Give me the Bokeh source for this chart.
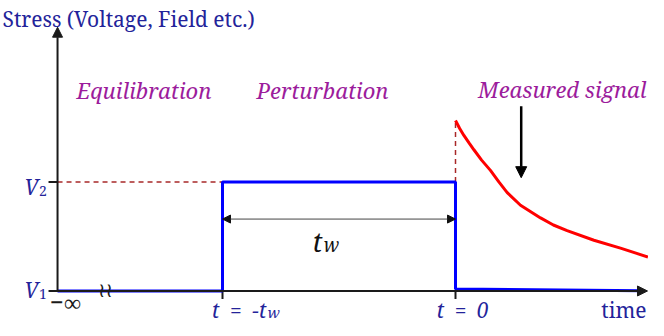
from bokeh.plotting import figure
from bokeh.models import Range1d, Arrow, NormalHead
from bokeh.core.properties import value
from bokeh.embed import file_html
from bokeh.resources import INLINE

# ---------------- data (schematic units: t_w = 1, V2 - V1 = 1) ----------------
V1 = 0.0
V2 = 1.0
t_w = 1.0
t_inf = -1.708          # where "-infinity" sits on the (broken) time axis
t_end = 0.824           # end of the time axis (arrow tip)
step_t = [t_inf, -t_w, -t_w, 0.0, 0.0, 0.80]
step_v = [V1, V1, V2, V2, 0.018, 0.002]
signal_t = [0.0, 0.018, 0.036, 0.058, 0.079, 0.112, 0.150, 0.186, 0.222, 0.279,
            0.365, 0.420, 0.479, 0.594, 0.708, 0.826]
signal_v = [1.563, 1.490, 1.426, 1.358, 1.295, 1.200, 1.106, 1.000, 0.902, 0.786,
            0.670, 0.605, 0.553, 0.465, 0.393, 0.312]
signal_arrow_t = 0.282
signal_arrow_v = [1.694, 1.039]
axis_top = 2.419

# ---------------- layout ----------------
W, H = 648, 320
SY = H / 336.0             # vertical squeeze of the 336px-high reference layout
PXX = 233.0                # pixels per time unit
PXY = 114.5 * SY           # pixels per stress unit
X0PX, Y0PX = 455.0, 305.0 * SY   # canvas position of (t=0, V1)


def X(px):
    return (px - X0PX) / PXX


def Y(py):  # py given in reference pixels
    return (Y0PX - py * SY) / PXY


p = figure(width=W, height=H, output_backend="svg", toolbar_location=None,
           x_range=Range1d(X(0), X(W)), y_range=Range1d(Y(336), Y(0)),
           x_axis_location=None, y_axis_location=None, min_border=0)
p.grid.visible = False
p.outline_line_color = None
p.background_fill_color = "white"

SERIF = value("Noto Serif")
BLUE_T = "#23239a"
PURPLE = "#9c1c9c"
DRED = "#a82828"
AX = "#1a1a1a"
EN = "\u2002"

# dashed guide lines
p.line([t_inf, -t_w], [V2, V2], line_color=DRED, line_width=1.5, line_dash="5 4")
p.line([0.0, 0.0], [V2, signal_v[0]], line_color=DRED, line_width=1.5, line_dash="5 4")

# axes
p.add_layout(Arrow(x_start=t_inf, y_start=V1, x_end=t_inf, y_end=axis_top,
                   line_color=AX, line_width=2,
                   end=NormalHead(size=10, fill_color=AX, line_color=AX)))
p.add_layout(Arrow(x_start=t_inf - 9 / PXX, y_start=V1, x_end=t_end, y_end=V1,
                   line_color=AX, line_width=2,
                   end=NormalHead(size=10, fill_color=AX, line_color=AX)))
# ticks
p.segment(x0=[t_inf - 9 / PXX], y0=[V2], x1=[t_inf], y1=[V2], line_color=AX, line_width=2)
p.segment(x0=[-t_w, 0.0], y0=[V1, V1], x1=[-t_w, 0.0], y1=[V1 - 8 / PXY, V1 - 8 / PXY],
          line_color=AX, line_width=2)

# stress step
p.line(step_t, step_v, line_color="#0000ff", line_width=3)
# measured signal
p.line(signal_t, signal_v, line_color="#ff0000", line_width=3)

# t_w double arrow
yw = Y(229.5)
p.add_layout(Arrow(x_start=-t_w, y_start=yw, x_end=0.0, y_end=yw,
                   line_color="#444444", line_width=1,
                   start=NormalHead(size=8, fill_color="#111111", line_color="#111111"),
                   end=NormalHead(size=8, fill_color="#111111", line_color="#111111")))
# measured signal arrow
p.add_layout(Arrow(x_start=signal_arrow_t, y_start=signal_arrow_v[0],
                   x_end=signal_arrow_t, y_end=signal_arrow_v[1],
                   line_color="black", line_width=2.5,
                   end=NormalHead(size=11, fill_color="black", line_color="black")))


def txt(xpx, ypx, s, size, color, style="normal", align="left", baseline="alphabetic",
        font=SERIF):
    p.text(x=[X(xpx)], y=[Y(ypx)], text=[s], text_font=font, text_font_size=f"{size}px",
           text_font_style=style, text_color=color, text_align=align, text_baseline=baseline)


# titles
txt(2, 19.5, "Stress (Voltage, Field etc.)", 21, BLUE_T)
txt(143.5, 94, "Equilibration", 22, PURPLE, "italic", "center")
txt(322, 94, "Perturbation", 22, PURPLE, "italic", "center")
txt(646, 93, "Measured signal", 22, PURPLE, "italic", "right")

# y tick labels
txt(38, 196, "V", 21, BLUE_T, "italic", "right")
txt(38.5, 200, "2", 14, BLUE_T)
txt(38, 304, "V", 21, BLUE_T, "italic", "right")
txt(38.5, 308, "1", 14, BLUE_T)

# x tick labels
txt(65, 316, "\u2212\u221e", 24, AX, "normal", "center", "middle")
txt(105, 304, "\u2240\u2240", 20, AX, "normal", "center", "middle", value("DejaVu Sans"))
txt(266, 324.5, f"t{EN}={EN}\u2212t", 21, BLUE_T, "italic", "right")
txt(267, 327, "w", 15, BLUE_T, "italic")
txt(462, 324.5, f"t{EN}={EN}0", 21, BLUE_T, "italic", "center")
txt(646, 324.5, "time", 21, BLUE_T, "normal", "right")

# t_w label
txt(322, 253, "t", 27, "#111111", "italic", "right")
txt(323, 257, "w", 19, "#111111", "italic")

open("out.html", "w").write(file_html(p, INLINE))
